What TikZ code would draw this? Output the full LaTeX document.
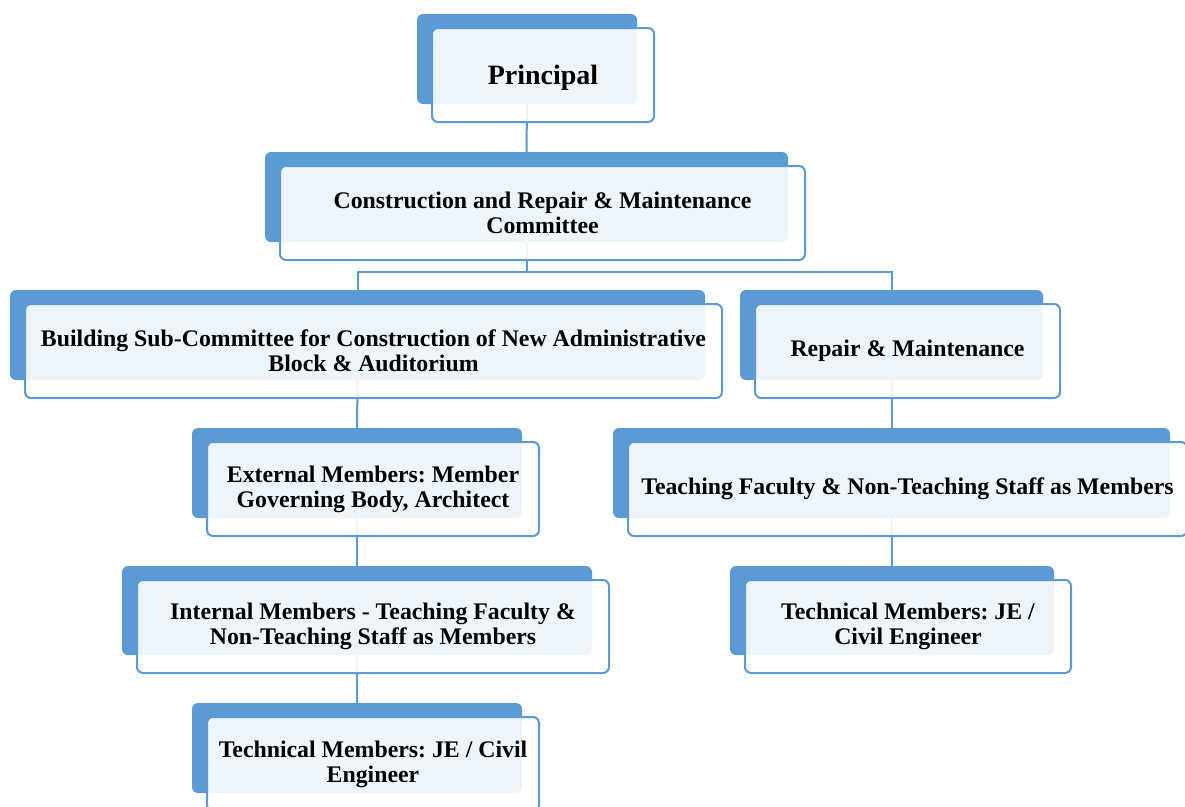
\documentclass[tikz,border=0pt]{standalone}
\usepackage{fontspec}
\setmainfont{Liberation Serif}
\usetikzlibrary{backgrounds}
\definecolor{ablue}{HTML}{5B9BD5}
\frenchspacing
\tikzset{
  backbox/.style={fill=ablue, rounded corners=6pt, inner sep=0pt},
  frontbox/.style={draw=ablue, line width=2pt, fill=white, fill opacity=0.9, text opacity=1,
    rounded corners=6pt, align=center, inner sep=0pt,
    font=\bfseries\fontsize{23.8}{25}\selectfont},
  link/.style={draw=ablue, line width=2pt}
}
% #1 extra style, #2 name, #3 x1, #4 y1, #5 x2, #6 y2 (back box, pixel coords), #7 text
\newcommand\orgbox[7][]{%
  \node[backbox, minimum width={#5-#3}, minimum height={#6-#4}] (#2b)
    at ({(#3+#5)/2}, {-(#4+#6)/2}) {};
  \node[frontbox, #1, minimum width={#5-#3+2}, minimum height={#6-#4+4}] (#2)
    at ({(#3+#5)/2+16}, {-(#4+#6)/2-16}) {#7};
}
\begin{document}
\begin{tikzpicture}[x=1pt,y=1pt]
\useasboundingbox (0,0) rectangle (1185,-806);
\orgbox[font=\bfseries\fontsize{28}{30}\selectfont, text height=25pt, text depth=6pt]{pr}{417}{14}{637}{104}{Principal}
\orgbox{cm}{265}{152}{788}{242}{Construction and Repair \& Maintenance\\Committee}
\orgbox{bs}{10}{290}{705}{380}{Building Sub-Committee for Construction of New Administrative\\Block \& Auditorium}
\orgbox{rm}{740}{290}{1043}{380}{Repair \& Maintenance}
\orgbox{ex}{192}{428}{522}{518}{External Members: Member\\Governing Body, Architect}
\orgbox{tf}{613}{428}{1170}{518}{Teaching Faculty \& Non-Teaching Staff as Members}
\orgbox{im}{122}{566}{592}{655}{Internal Members - Teaching Faculty \&\\Non-Teaching Staff as Members}
\orgbox{tr}{730}{566}{1054}{655}{Technical Members: JE /\\Civil Engineer}
\orgbox{tl}{192}{703}{522}{793}{Technical Members: JE / Civil\\Engineer}
\begin{scope}[on background layer]
  \coordinate (bus) at (0,-272);
  \draw[link] (prb.center) -- (cmb.center);
  \draw[link] (cmb.center) -- (cmb.center |- bus) -| (bsb.center);
  \draw[link] (cmb.center |- bus) -| (rmb.center);
  \draw[link] (bsb.center) -- (exb.center);
  \draw[link] (exb.center) -- (imb.center);
  \draw[link] (imb.center) -- (tlb.center);
  \draw[link] (rmb.center) -- (tfb.center);
  \draw[link] (tfb.center) -- (trb.center);
\end{scope}
\end{tikzpicture}
\end{document}
